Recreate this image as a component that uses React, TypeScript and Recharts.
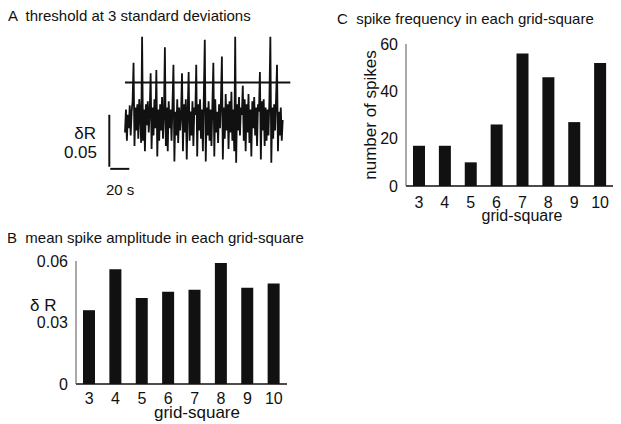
import React from 'react';
import {
  BarChart,
  Bar,
  LineChart,
  Line,
  XAxis,
  YAxis,
  ReferenceLine,
} from 'recharts';

// grid-square categories shared by panels B and C
const gridSquares = ['3', '4', '5', '6', '7', '8', '9', '10'];

// B: mean spike amplitude (dR)
const meanAmplitude = [0.036, 0.056, 0.042, 0.045, 0.046, 0.059, 0.047, 0.049];
const amplitudeTicks = [0, 0.03, 0.06];

// C: number of spikes
const spikeCounts = [17, 17, 10, 26, 56, 46, 27, 52];
const countTicks = [0, 20, 40, 60];

// A: recorded trace, one sample per second, in units of 0.001 dR
const traceValues = [
  -12, 10, -20, 5, -8, 14, -15, 8, 18, 55,
  -25, 12, -10, 15, -18, 20, 5, -22, 80, -20,
  10, -30, 15, -5, 18, -12, 8, 45, -28, 12,
  -15, 20, -8, 48, -35, 10, -20, 15, -10, 22,
  -18, 5, 70, -25, 12, -30, 18, -8, 10, -20,
  15, 53, -40, 8, -15, 20, -22, 12, -10, 5,
  45, -30, 15, -12, 20, -38, 10, 46, -20, 8,
  -15, 18, -25, 12, 5, 53, -35, 15, -10, 20,
  -18, 10, -30, 25, 77, -40, 12, -15, 18, -20,
  10, -25, 15, 55, -35, 20, -12, 8, -22, 15,
  -8, 20, 61, -38, 12, -18, 25, -10, 15, -28,
  18, -12, 27, -20, 10, -30, 80, -41, 15, -10,
  22, -15, 12, 5, 33, -20, 20, -30, 15, -12,
  25, -22, 10, -35, 18, -8, 22, -15, 12, -25,
  15, 8, 46, -38, 18, -10, 20, -25, 12, -20,
  10, -15, 20, 80, -41, 12, -18, 15, -10, 20,
  53, -30, 8, -15, 12, -20, 0,
];
const threshold = 36; // 3 standard deviations
const thresholdEnd = 174; // seconds
const scaleBarTime = 20; // s
const scaleBarAmp = 50; // 0.05 dR

const FONT = '"Liberation Sans", Arial, Helvetica, sans-serif';
const INK = '#111';

const traceData = traceValues.map((v, i) => ({ t: i, v }));
const amplitudeData = gridSquares.map((g, i) => ({ g, v: meanAmplitude[i] }));
const countData = gridSquares.map((g, i) => ({ g, v: spikeCounts[i] }));

const tickStyle = { fill: INK, fontSize: 16, fontFamily: FONT };

function Label({
  x,
  y,
  text,
  align = 'left',
  size = 15,
}: {
  x: number;
  y: number;
  text: string;
  align?: 'left' | 'right' | 'center';
  size?: number;
}) {
  const pos =
    align === 'right'
      ? { right: 621 - x }
      : align === 'center'
      ? { left: x, transform: 'translateX(-50%)' }
      : { left: x };
  return (
    <div
      style={{
        position: 'absolute',
        top: y,
        ...pos,
        fontSize: size,
        lineHeight: `${size}px`,
        whiteSpace: 'pre',
        color: INK,
        zIndex: 2,
      }}
    >
      {text}
    </div>
  );
}

export default function App() {
  // scale bar corner, in chart units
  const barX = -16.5;
  const barY = -47;

  return (
    <div
      style={{
        position: 'relative',
        width: 621,
        height: 424,
        background: '#fff',
        fontFamily: FONT,
        margin: '-8px 0 0 -8px',
      }}
    >
      <Label x={8} y={8} text="A  threshold at 3 standard deviations" />
      <Label x={337} y={11} text="C  spike frequency in each grid-square" />
      <Label x={7} y={230} text="B  mean spike amplitude in each grid-square" />

      {/* panel A */}
      <Label x={96} y={125} text="δR" align="right" size={17} />
      <Label x={97} y={144} text="0.05" align="right" size={17} />
      <Label x={106} y={182} text="20 s" />
      <div style={{ position: 'absolute', left: 100, top: 30 }}>
        <LineChart width={200} height={145} data={traceData} margin={{ top: 0, right: 0, bottom: 0, left: 0 }}>
          <XAxis dataKey="t" type="number" domain={[-26.3, 184.2]} hide />
          <YAxis type="number" domain={[-52.9, 86.5]} hide allowDataOverflow />
          <ReferenceLine
            segment={[{ x: 0, y: threshold }, { x: thresholdEnd, y: threshold }]}
            stroke={INK}
            strokeWidth={2}
          />
          <ReferenceLine
            segment={[{ x: barX, y: barY + 2 }, { x: barX, y: barY + 2 + scaleBarAmp }]}
            stroke={INK}
            strokeWidth={2}
          />
          <ReferenceLine
            segment={[{ x: barX + 1, y: barY }, { x: barX + 1 + scaleBarTime, y: barY }]}
            stroke={INK}
            strokeWidth={2}
          />
          <Line
            dataKey="v"
            type="linear"
            stroke={INK}
            strokeWidth={1.8}
            dot={false}
            isAnimationActive={false}
          />
        </LineChart>
      </div>

      {/* panel B */}
      <Label x={30} y={297} text="δ R" size={17} />
      <Label x={197} y={404} text="grid-square" align="center" size={17} />
      <div style={{ position: 'absolute', left: 0, top: 240 }}>
        <BarChart width={300} height={170} data={amplitudeData} margin={{ top: 21, right: 13, bottom: 0, left: 0 }}>
          <XAxis
            dataKey="g"
            height={26}
            tickLine={false}
            tickMargin={3}
            stroke={INK}
            strokeWidth={1.5}
            tick={tickStyle}
            interval={0}
          />
          <YAxis
            width={76}
            domain={[0, 0.06]}
            ticks={amplitudeTicks}
            tickLine={false}
            stroke="#555"
            tick={tickStyle}
            tickFormatter={(v: number) => (v === 0 ? '0' : v.toFixed(2))}
          />
          <Bar dataKey="v" fill={INK} barSize={12} isAnimationActive={false} />
        </BarChart>
      </div>

      {/* panel C */}
      <Label x={522} y={208} text="grid-square" align="center" size={16} />
      <div style={{ position: 'absolute', left: 330, top: 20 }}>
        <BarChart width={291} height={192} data={countData} margin={{ top: 24, right: 8, bottom: 0, left: 0 }}>
          <XAxis
            dataKey="g"
            height={26}
            tickLine={false}
            tickMargin={5}
            stroke={INK}
            strokeWidth={1.5}
            tick={tickStyle}
            interval={0}
          />
          <YAxis
            width={76}
            domain={[0, 60]}
            ticks={countTicks}
            tickLine={false}
            stroke="#555"
            tick={tickStyle}
            label={{
              value: 'number of spikes',
              angle: -90,
              position: 'center',
              dx: 2,
              fill: INK,
              fontSize: 17,
              fontFamily: FONT,
            }}
          />
          <Bar dataKey="v" fill={INK} barSize={12} isAnimationActive={false} />
        </BarChart>
      </div>
    </div>
  );
}
